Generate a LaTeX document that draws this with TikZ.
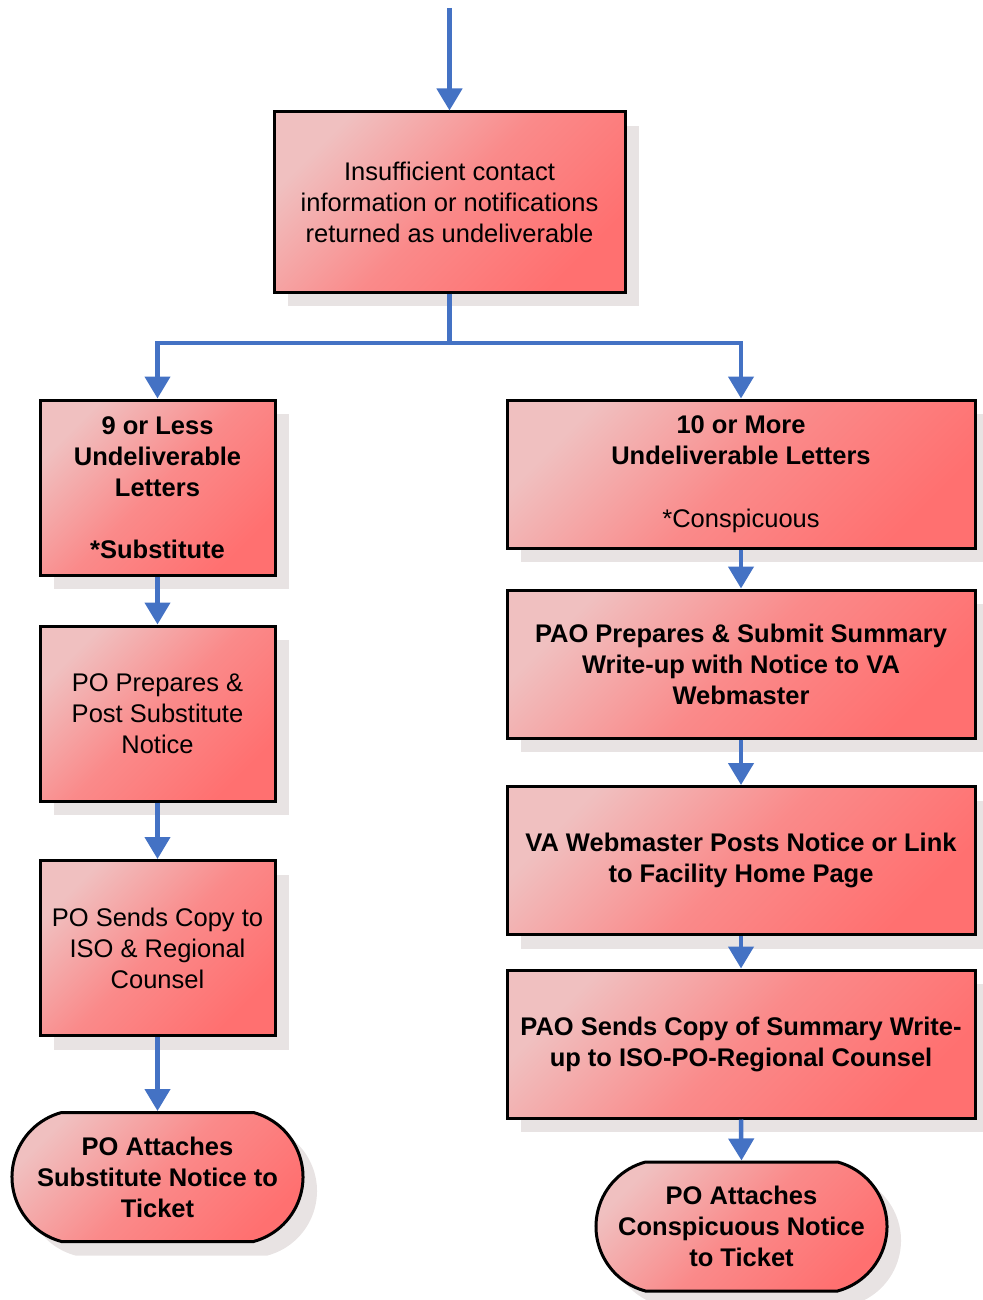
\documentclass[tikz,border=0pt]{standalone}
\usepackage{fontspec}
\setmainfont{Liberation Sans}
\usetikzlibrary{arrows.meta,shapes.misc,shadows}

\definecolor{flowblue}{RGB}{68,114,196}
\definecolor{boxlight}{RGB}{240,192,192}
\definecolor{boxmid}{RGB}{250,138,138}
\definecolor{boxdark}{RGB}{255,112,112}
\definecolor{shadowgrey}{RGB}{232,227,227}

\tikzset{
  boxbase/.style={draw=black, line width=3pt, inner sep=0pt, align=center,
    top color=boxlight, bottom color=boxdark, middle color=boxmid, shading angle=45,
    drop shadow={shadow xshift=14pt, shadow yshift=-14pt, fill=shadowgrey, opacity=1},
    font=\fontsize{25.5}{31}\selectfont},
  stepbox/.style={boxbase, rectangle},
  endbox/.style={boxbase, rounded rectangle, rounded rectangle arc length=150,
    minimum width=291pt, minimum height=129pt},
  narrowbox/.style={stepbox, minimum width=235pt, minimum height=175pt},
  widebox/.style={stepbox, minimum width=468pt, minimum height=148pt},
  flow/.style={draw=flowblue, line width=4.5pt, -{Triangle[width=25pt,length=22pt]}},
  plainflow/.style={draw=flowblue, line width=4.5pt},
}

\begin{document}
\begin{tikzpicture}[x=1pt, y=-1pt]
  \useasboundingbox (0,0) rectangle (982,1300);

  % entry point and first decision box
  \coordinate (entry) at (449.5,8);
  \node[stepbox, minimum width=351pt, minimum height=180pt] (top) at (449.5,202)
    {Insufficient contact\\information or notifications\\returned as undeliverable};

  % substitute notice branch
  \node[narrowbox] (L1) at (157.5,487.5)
    {\bfseries 9 or Less\\\bfseries Undeliverable\\\bfseries Letters\\[31pt]\bfseries *Substitute};
  \node[narrowbox] (L2) at (157.5,713.5)
    {PO Prepares \&\\Post Substitute\\Notice};
  \node[narrowbox] (L3) at (157.5,948)
    {PO Sends Copy to\\ISO \& Regional\\Counsel};
  \node[endbox, font=\fontsize{25.5}{31}\selectfont\bfseries] (LT) at (157.5,1177)
    {PO Attaches\\Substitute Notice to\\Ticket};

  % conspicuous notice branch
  \node[widebox] (R1) at (741,474)
    {\textbf{10 or More}\\\textbf{Undeliverable Letters}\\[32pt]*Conspicuous};
  \node[widebox, font=\fontsize{25.5}{31}\selectfont\bfseries] (R2) at (741,664)
    {PAO Prepares \& Submit Summary\\Write-up with Notice to VA\\Webmaster};
  \node[widebox, font=\fontsize{25.5}{31}\selectfont\bfseries] (R3) at (741,860.5)
    {VA Webmaster Posts Notice or Link\\to Facility Home Page};
  \node[widebox, font=\fontsize{25.5}{31}\selectfont\bfseries] (R4) at (741,1044)
    {PAO Sends Copy of Summary Write-\\up to ISO-PO-Regional Counsel};
  \node[endbox, font=\fontsize{25.5}{31}\selectfont\bfseries] (RT) at (741.5,1226.5)
    {PO Attaches\\Conspicuous Notice\\to Ticket};

  % connectors
  \coordinate (split) at (449.5,343);
  \draw[flow] (entry) -- (top.north);
  \draw[plainflow] (top.south) -- (split);
  \draw[flow] (split) -| (L1.north);
  \draw[flow] (split) -| (R1.north);

  \draw[flow] (L1.south) -- (L2.north);
  \draw[flow] (L2.south) -- (L3.north);
  \draw[flow] (L3.south) -- (LT.north);

  \draw[flow] (R1.south) -- (R2.north);
  \draw[flow] (R2.south) -- (R3.north);
  \draw[flow] (R3.south) -- (R4.north);
  \draw[flow] (R4.south) -- (RT.north);
\end{tikzpicture}
\end{document}
